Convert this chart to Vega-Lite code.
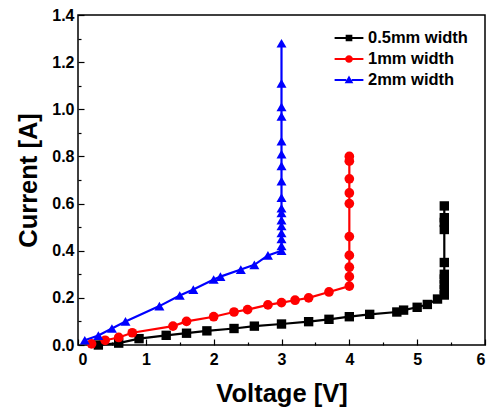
{
  "$schema": "https://vega.github.io/schema/vega-lite/v6.json",
  "width": 407,
  "height": 330,
  "autosize": {"type": "none"},
  "padding": {"left": 78, "top": 15, "right": 8, "bottom": 64},
  "background": "white",
  "config": {
    "view": {"stroke": "black", "strokeWidth": 1.5},
    "font": "Liberation Sans",
    "axis": {
      "domain": false,
      "grid": false,
      "labelFont": "Liberation Sans",
      "labelFontWeight": "bold",
      "labelFontSize": 16,
      "labelColor": "black",
      "titleFont": "Liberation Sans",
      "titleFontWeight": "bold",
      "titleFontSize": 25.5,
      "titleColor": "black",
      "tickColor": "black",
      "tickWidth": 1.2
    }
  },
  "data": {
    "values": [
      {"series": "0.5mm width", "i": 1, "V": 0.3, "I": 0.0},
      {"series": "0.5mm width", "i": 2, "V": 0.6, "I": 0.008},
      {"series": "0.5mm width", "i": 3, "V": 0.9, "I": 0.027},
      {"series": "0.5mm width", "i": 4, "V": 1.3, "I": 0.041},
      {"series": "0.5mm width", "i": 5, "V": 1.6, "I": 0.05},
      {"series": "0.5mm width", "i": 6, "V": 1.9, "I": 0.06},
      {"series": "0.5mm width", "i": 7, "V": 2.3, "I": 0.07},
      {"series": "0.5mm width", "i": 8, "V": 2.6, "I": 0.08},
      {"series": "0.5mm width", "i": 9, "V": 3.0, "I": 0.089},
      {"series": "0.5mm width", "i": 10, "V": 3.4, "I": 0.099},
      {"series": "0.5mm width", "i": 11, "V": 3.7, "I": 0.109},
      {"series": "0.5mm width", "i": 12, "V": 4.0, "I": 0.12},
      {"series": "0.5mm width", "i": 13, "V": 4.3, "I": 0.13},
      {"series": "0.5mm width", "i": 14, "V": 4.7, "I": 0.14},
      {"series": "0.5mm width", "i": 15, "V": 4.8, "I": 0.148},
      {"series": "0.5mm width", "i": 16, "V": 5.0, "I": 0.16},
      {"series": "0.5mm width", "i": 17, "V": 5.15, "I": 0.172},
      {"series": "0.5mm width", "i": 18, "V": 5.3, "I": 0.195},
      {"series": "0.5mm width", "i": 19, "V": 5.4, "I": 0.212},
      {"series": "0.5mm width", "i": 20, "V": 5.4, "I": 0.236},
      {"series": "0.5mm width", "i": 21, "V": 5.4, "I": 0.257},
      {"series": "0.5mm width", "i": 22, "V": 5.4, "I": 0.28},
      {"series": "0.5mm width", "i": 23, "V": 5.4, "I": 0.30},
      {"series": "0.5mm width", "i": 24, "V": 5.4, "I": 0.35},
      {"series": "0.5mm width", "i": 25, "V": 5.4, "I": 0.49},
      {"series": "0.5mm width", "i": 26, "V": 5.4, "I": 0.52},
      {"series": "0.5mm width", "i": 27, "V": 5.4, "I": 0.54},
      {"series": "0.5mm width", "i": 28, "V": 5.4, "I": 0.59},
      {"series": "1mm width", "i": 1, "V": 0.2, "I": 0.005},
      {"series": "1mm width", "i": 2, "V": 0.4, "I": 0.02},
      {"series": "1mm width", "i": 3, "V": 0.6, "I": 0.032},
      {"series": "1mm width", "i": 4, "V": 0.8, "I": 0.052},
      {"series": "1mm width", "i": 5, "V": 1.4, "I": 0.08},
      {"series": "1mm width", "i": 6, "V": 1.6, "I": 0.10},
      {"series": "1mm width", "i": 7, "V": 2.0, "I": 0.12},
      {"series": "1mm width", "i": 8, "V": 2.3, "I": 0.14},
      {"series": "1mm width", "i": 9, "V": 2.5, "I": 0.15},
      {"series": "1mm width", "i": 10, "V": 2.8, "I": 0.17},
      {"series": "1mm width", "i": 11, "V": 3.0, "I": 0.18},
      {"series": "1mm width", "i": 12, "V": 3.2, "I": 0.19},
      {"series": "1mm width", "i": 13, "V": 3.4, "I": 0.20},
      {"series": "1mm width", "i": 14, "V": 3.7, "I": 0.225},
      {"series": "1mm width", "i": 15, "V": 4.0, "I": 0.25},
      {"series": "1mm width", "i": 16, "V": 4.0, "I": 0.29},
      {"series": "1mm width", "i": 17, "V": 4.0, "I": 0.33},
      {"series": "1mm width", "i": 18, "V": 4.0, "I": 0.38},
      {"series": "1mm width", "i": 19, "V": 4.0, "I": 0.46},
      {"series": "1mm width", "i": 20, "V": 4.0, "I": 0.60},
      {"series": "1mm width", "i": 21, "V": 4.0, "I": 0.645},
      {"series": "1mm width", "i": 22, "V": 4.0, "I": 0.705},
      {"series": "1mm width", "i": 23, "V": 4.0, "I": 0.78},
      {"series": "1mm width", "i": 24, "V": 4.0, "I": 0.80},
      {"series": "2mm width", "i": 1, "V": 0.1, "I": 0.02},
      {"series": "2mm width", "i": 2, "V": 0.3, "I": 0.04},
      {"series": "2mm width", "i": 3, "V": 0.5, "I": 0.07},
      {"series": "2mm width", "i": 4, "V": 0.7, "I": 0.10},
      {"series": "2mm width", "i": 5, "V": 1.2, "I": 0.165},
      {"series": "2mm width", "i": 6, "V": 1.5, "I": 0.21},
      {"series": "2mm width", "i": 7, "V": 1.7, "I": 0.235},
      {"series": "2mm width", "i": 8, "V": 2.0, "I": 0.278},
      {"series": "2mm width", "i": 9, "V": 2.1, "I": 0.29},
      {"series": "2mm width", "i": 10, "V": 2.4, "I": 0.32},
      {"series": "2mm width", "i": 11, "V": 2.6, "I": 0.34},
      {"series": "2mm width", "i": 12, "V": 2.8, "I": 0.38},
      {"series": "2mm width", "i": 13, "V": 3.0, "I": 0.40},
      {"series": "2mm width", "i": 14, "V": 3.0, "I": 0.42},
      {"series": "2mm width", "i": 15, "V": 3.0, "I": 0.45},
      {"series": "2mm width", "i": 16, "V": 3.0, "I": 0.475},
      {"series": "2mm width", "i": 17, "V": 3.0, "I": 0.505},
      {"series": "2mm width", "i": 18, "V": 3.0, "I": 0.53},
      {"series": "2mm width", "i": 19, "V": 3.0, "I": 0.56},
      {"series": "2mm width", "i": 20, "V": 3.0, "I": 0.58},
      {"series": "2mm width", "i": 21, "V": 3.0, "I": 0.625},
      {"series": "2mm width", "i": 22, "V": 3.0, "I": 0.695},
      {"series": "2mm width", "i": 23, "V": 3.0, "I": 0.76},
      {"series": "2mm width", "i": 24, "V": 3.0, "I": 0.81},
      {"series": "2mm width", "i": 25, "V": 3.0, "I": 0.865},
      {"series": "2mm width", "i": 26, "V": 3.0, "I": 0.97},
      {"series": "2mm width", "i": 27, "V": 3.0, "I": 1.01},
      {"series": "2mm width", "i": 28, "V": 3.0, "I": 1.11},
      {"series": "2mm width", "i": 29, "V": 3.0, "I": 1.28}
    ]
  },
  "encoding": {
    "x": {
      "field": "V",
      "type": "quantitative",
      "scale": {"domain": [0, 6], "nice": false},
      "axis": {
        "title": "Voltage [V]",
        "values": [0, 0.5, 1, 1.5, 2, 2.5, 3, 3.5, 4, 4.5, 5, 5.5, 6],
        "labelExpr": "datum.value % 1 === 0 ? format(datum.value, 'd') : ''",
        "tickSize": {"condition": {"test": "datum.value % 1 === 0", "value": -6}, "value": -3},
        "labelPadding": 12,
        "titlePadding": 14
      }
    },
    "y": {
      "field": "I",
      "type": "quantitative",
      "scale": {"domain": [0, 1.4], "nice": false},
      "axis": {
        "title": "Current [A]",
        "values": [0, 0.1, 0.2, 0.3, 0.4, 0.5, 0.6, 0.7, 0.8, 0.9, 1.0, 1.1, 1.2, 1.3, 1.4],
        "labelExpr": "round(datum.value * 10) % 2 === 0 ? format(datum.value, '.1f') : ''",
        "tickSize": {"condition": {"test": "round(datum.value * 10) % 2 === 0", "value": -6}, "value": -3},
        "labelPadding": 10,
        "titlePadding": 10
      }
    }
  },
  "layer": [
    {
      "mark": {"type": "line", "strokeWidth": 2.2},
      "encoding": {
        "color": {
          "field": "series",
          "type": "nominal",
          "scale": {"domain": ["0.5mm width", "1mm width", "2mm width"], "range": ["#000000", "#ff0000", "#0000ff"]},
          "legend": null
        },
        "order": {"field": "i", "type": "quantitative"}
      }
    },
    {
      "mark": {"type": "point", "filled": true, "opacity": 1},
      "encoding": {
        "color": {
          "field": "series",
          "type": "nominal",
          "scale": {"domain": ["0.5mm width", "1mm width", "2mm width"], "range": ["#000000", "#ff0000", "#0000ff"]},
          "legend": null
        },
        "shape": {
          "field": "series",
          "type": "nominal",
          "scale": {"domain": ["0.5mm width", "1mm width", "2mm width"], "range": ["square", "circle", "triangle-up"]},
          "legend": null
        },
        "size": {
          "field": "series",
          "type": "nominal",
          "scale": {"domain": ["0.5mm width", "1mm width", "2mm width"], "range": [88, 100, 130]},
          "legend": null
        }
      }
    },
    {
      "transform": [{"filter": "false"}],
      "mark": {"type": "point", "filled": true, "opacity": 1, "size": 324},
      "encoding": {
        "color": {
          "field": "series",
          "type": "nominal",
          "scale": {"domain": ["0.5mm width", "1mm width", "2mm width"], "range": ["#000000", "#ff0000", "#0000ff"]},
          "legend": {
            "title": null,
            "orient": "none",
            "legendX": 262,
            "legendY": 14,
            "padding": 0,
            "symbolSize": 324,
            "symbolStrokeWidth": 0,
            "symbolOpacity": 1,
            "labelOffset": 10,
            "rowPadding": 3,
            "labelFont": "Liberation Sans",
            "labelFontSize": 16.5,
            "labelFontWeight": "bold",
            "labelColor": "black"
          }
        },
        "shape": {
          "field": "series",
          "type": "nominal",
          "scale": {
            "domain": ["0.5mm width", "1mm width", "2mm width"],
            "range": [
              "M-1.6,-0.11H-0.37V0.11H-1.6Z M0.37,-0.11H1.6V0.11H0.37Z M-0.37,-0.37H0.37V0.37H-0.37Z",
              "M-1.6,-0.11H-0.4V0.11H-1.6Z M0.4,-0.11H1.6V0.11H0.4Z M-0.43,0A0.43,0.43 0 1,1 0.43,0A0.43,0.43 0 1,1 -0.43,0Z",
              "M-1.6,-0.11H-0.3V0.11H-1.6Z M0.3,-0.11H1.6V0.11H0.3Z M0,-0.5L0.48,0.36H-0.48Z"
            ]
          },
          "legend": {
            "title": null,
            "orient": "none",
            "legendX": 262,
            "legendY": 14,
            "padding": 0,
            "symbolSize": 324,
            "symbolStrokeWidth": 0,
            "symbolOpacity": 1,
            "labelOffset": 10,
            "rowPadding": 3,
            "labelFont": "Liberation Sans",
            "labelFontSize": 16.5,
            "labelFontWeight": "bold",
            "labelColor": "black"
          }
        }
      }
    }
  ],
  "resolve": {"scale": {"color": "independent", "shape": "independent"}}
}
